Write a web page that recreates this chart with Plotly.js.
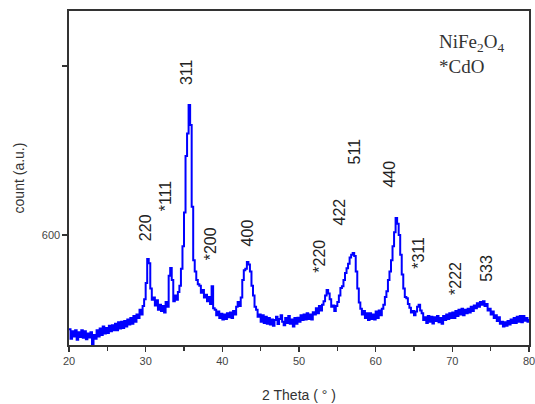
<!DOCTYPE html>
<html>
<head>
<meta charset="utf-8">
<script src="https://cdn.plot.ly/plotly-3.0.1.min.js"></script>
<style>html,body{margin:0;padding:0;background:#fff;}#chart{width:535px;height:404px;}</style>
</head>
<body>
<div id="chart"></div>
<script>
// XRD pattern, 2θ from 20° to 80° sampled every 0.2°
const thetaStart = 20;
const thetaStep = 0.2;
const counts = [
  265,232,258,240,262, 228,255,238,262,235, 258,230,250,236,255, 212,245,232,262,240,
  268,245,275,250,270, 252,278,258,280,262, 285,262,290,268,292, 270,295,275,300,282,
  305,285,312,292,318, 305,335,318,348,372, 430,515,500,410,370, 378,350,368,335,352,
  330,348,325,362,345, 455,483,440,365,385, 370,398,420,480,560, 680,880,960,1061,990,
  700,510,470,440,425, 420,395,405,378,388, 365,380,355,418,340, 335,315,328,305,320,
  300,318,302,322,308, 325,305,330,318,345, 362,348,378,440,475, 480,504,495,470,420,
  385,345,335,310,318, 292,315,288,310,285, 305,282,300,278,298, 310,284,302,315,292,
  280,305,288,312,285, 300,275,305,285,306, 292,315,298,318,300, 322,302,318,300,326,
  318,340,322,348,332, 352,365,385,405,392, 372,345,350,330,348, 362,385,412,418,440,
  465,482,498,520,530, 536,525,470,410,360, 338,318,330,305,322, 298,322,302,318,300,
  328,305,332,315,338, 352,380,400,440,470, 510,560,610,660,640, 600,530,460,410,380,
  375,355,342,325,330, 315,328,345,352,332, 322,298,308,288,312, 292,310,286,308,295,
  312,290,305,285,312, 298,318,302,322,305, 325,305,330,312,335, 318,338,315,335,322,
  338,325,345,330,350, 340,358,345,362,352, 365,348,355,332,338, 318,328,305,315,295,
  308,285,292,275,290, 278,295,282,300,288, 305,288,310,292,312, 290,312,296,305,292,
  302
];
const theta = counts.map((_, i) => +(thetaStart + i * thetaStep).toFixed(1));

// Peak labels (hkl) and where they sit (2θ, count)
const peakLabels = ["220", "*111", "311", "*200", "400", "*220", "422", "511", "440", "*311", "*222", "533"];
const labelTheta = [30.07, 32.55, 35.42, 38.43, 43.27, 52.68, 55.29, 57.25, 61.83, 65.49, 70.33, 74.51];
const labelCount = [625, 738, 1179, 568, 607, 525, 682, 895, 817, 536, 447, 483];

const yTickVals = [600, 1200];
const yTickText = ["600", ""];
const xTickVals = [20, 30, 40, 50, 60, 70, 80];

const annotations = peakLabels.map((t, i) => ({
  x: labelTheta[i], y: labelCount[i], xref: "x", yref: "y",
  text: t, textangle: -90, showarrow: false,
  font: {family: "Liberation Sans, Arial, sans-serif", size: 16, color: "#222"}
}));
annotations.push({
  xref: "paper", yref: "paper", x: 0.80, y: 0.945, xanchor: "left", yanchor: "top",
  align: "left", showarrow: false,
  text: "NiFe<sub>2</sub>O<sub>4</sub><br>*CdO",
  font: {family: "Liberation Serif, Times New Roman, serif", size: 19, color: "#333"}
});

const trace = {
  x: theta, y: counts, type: "scatter", mode: "lines",
  line: {color: "#0000ff", width: 2, shape: "hv"}
};

const layout = {
  width: 535, height: 404,
  margin: {l: 69, r: 6, t: 11, b: 59},
  paper_bgcolor: "#fff", plot_bgcolor: "#fff",
  showlegend: false,
  font: {family: "Liberation Sans, Arial, sans-serif", color: "#333"},
  xaxis: {
    range: [20, 80], tickvals: xTickVals, ticks: "outside", ticklen: 5, tickwidth: 1.2,
    tickcolor: "#333", showline: true, linecolor: "#333", linewidth: 1.6, mirror: true,
    showgrid: false, zeroline: false, ticklabeloverflow: "allow",
    tickfont: {size: 11, color: "#444"},
    minor: {dtick: 5, tick0: 0, ticks: "outside", ticklen: 4, tickcolor: "#333", showgrid: false},
    title: {text: "2 Theta ( ° )", font: {size: 14, color: "#333"}, standoff: 24}
  },
  yaxis: {
    range: [209.5, 1395], tickvals: yTickVals, ticktext: yTickText, ticks: "outside",
    ticklen: 5, tickwidth: 1.2, tickcolor: "#333", showline: true, linecolor: "#333",
    linewidth: 1.6, mirror: true, showgrid: false, zeroline: false,
    tickfont: {size: 11, color: "#444"},
    title: {text: "count (a.u.)", font: {size: 14, color: "#333"}, standoff: 14}
  },
  annotations: annotations
};

Plotly.newPlot("chart", [trace], layout, {displayModeBar: false, staticPlot: true});
</script>
</body>
</html>
